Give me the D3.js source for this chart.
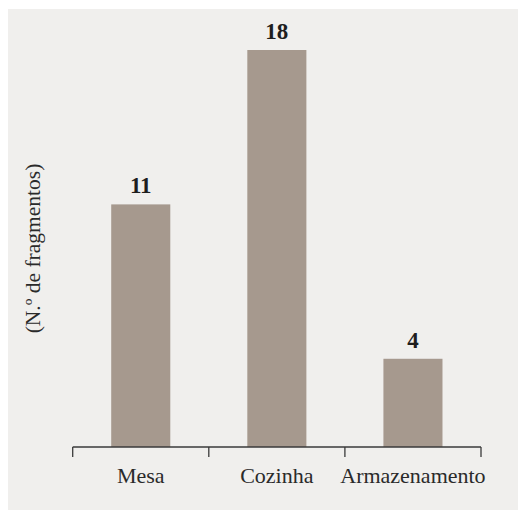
<!DOCTYPE html>
<html>
<head>
<meta charset="utf-8">
<script src="https://cdn.jsdelivr.net/npm/d3@7"></script>
<style>
  html, body { margin: 0; padding: 0; background: #ffffff; }
  svg { display: block; }
</style>
</head>
<body>
<svg id="chart" width="518" height="510"></svg>
<script>
// Fragment counts by function
const categories = ["Mesa", "Cozinha", "Armazenamento"];
const values = [11, 18, 4];
const yLabel = "(N.º de fragmentos)";

const W = 518, H = 510;
const svg = d3.select("#chart");

// panel background
svg.append("rect")
  .attr("x", 8).attr("y", 9)
  .attr("width", W - 8).attr("height", H - 9)
  .attr("fill", "#f0efed");

const x = d3.scaleBand()
  .domain(categories)
  .range([72.7, 481])
  .paddingInner(0.566)
  .paddingOuter(0.283);

const y = d3.scaleLinear()
  .domain([0, 18])
  .range([447, 50]);

const font = "'Liberation Serif', 'Times New Roman', serif";

// bars
svg.append("g").selectAll("rect")
  .data(categories)
  .join("rect")
  .attr("x", d => x(d))
  .attr("y", (d, i) => y(values[i]))
  .attr("width", x.bandwidth())
  .attr("height", (d, i) => y(0) - y(values[i]))
  .attr("fill", "#a6998e");

// value labels
svg.append("g").selectAll("text")
  .data(categories)
  .join("text")
  .attr("x", d => x(d) + x.bandwidth() / 2)
  .attr("y", (d, i) => y(values[i]) - 11)
  .attr("text-anchor", "middle")
  .attr("font-family", font)
  .attr("font-weight", "bold")
  .attr("font-size", 23)
  .attr("fill", "#1e1e1e")
  .text((d, i) => values[i]);

// category axis: baseline with ticks at the band boundaries
const axis = svg.append("g");
const [x0, x1] = x.range();
const step = x.step();
axis.append("line")
  .attr("x1", x0).attr("x2", x1)
  .attr("y1", y(0)).attr("y2", y(0))
  .attr("stroke", "#3a3a3a").attr("stroke-width", 1.3);
const bounds = d3.range(categories.length + 1).map(i => x0 + i * step);
axis.selectAll("line.tick")
  .data(bounds)
  .join("line")
  .attr("class", "tick")
  .attr("x1", d => d).attr("x2", d => d)
  .attr("y1", y(0)).attr("y2", y(0) + 10)
  .attr("stroke", "#3a3a3a").attr("stroke-width", 1.3);
axis.selectAll("text")
  .data(categories)
  .join("text")
  .attr("x", d => x(d) + x.bandwidth() / 2)
  .attr("y", 483)
  .attr("text-anchor", "middle")
  .attr("font-family", font)
  .attr("font-size", 22)
  .attr("fill", "#2a2a2a")
  .text(d => d);

// y-axis title
svg.append("text")
  .attr("transform", "translate(40,248.5) rotate(-90)")
  .attr("text-anchor", "middle")
  .attr("font-family", font)
  .attr("font-size", 21.5)
  .attr("fill", "#2a2a2a")
  .text(yLabel);
</script>
</body>
</html>
